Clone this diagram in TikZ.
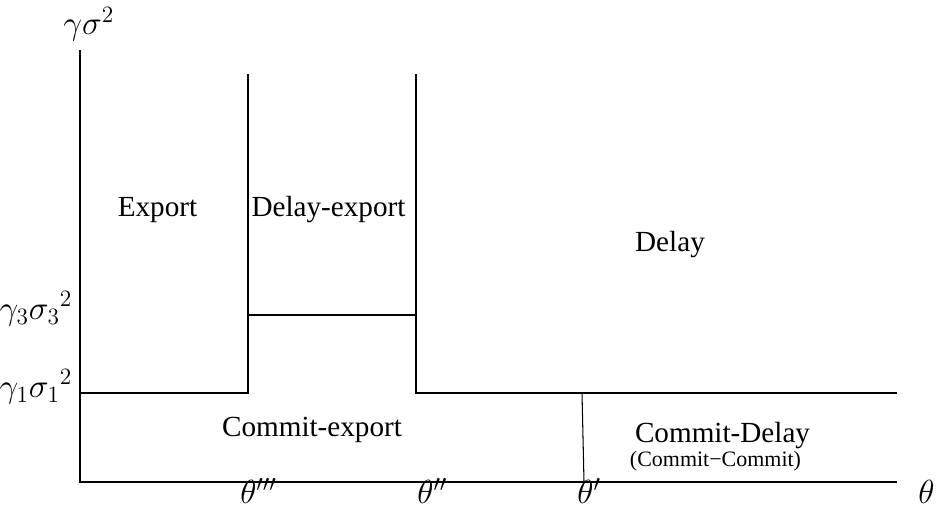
\documentclass[tikz,border=0pt]{standalone}
\usepackage{fix-cm}
\usepackage{fontspec}
\setmainfont{Liberation Serif}
\usetikzlibrary{positioning}

\begin{document}
\begin{tikzpicture}[
    region/.style={font=\fontsize{16.6}{20}\selectfont, anchor=base},
    axislabel/.style={font=\fontsize{19}{23}\selectfont, inner sep=0pt},
    border/.style={line width=1.1pt},
  ]
  \useasboundingbox (0,0) rectangle (18.74,10.2);

  % axes
  \draw[border] (1.6,9.2) -- (1.6,0.56) -- (17.94,0.56);

  % boundaries between the regions
  \draw[border] (1.6,2.34) -- (4.96,2.34) -- (4.96,8.72);
  \draw[border] (4.96,3.9) -- (8.32,3.9);
  \draw[border] (8.32,8.72) -- (8.32,2.34) -- (17.94,2.34);
  \draw[line width=0.6pt] (11.64,2.34) -- (11.68,0.56);

  % axis labels
  \node[axislabel, anchor=base west] (yaxis) at (1.26,9.5) {$\gamma\sigma^2$};
  \node[axislabel, anchor=mid east] (gthree) at (1.45,3.9) {${\gamma_3\sigma_3}^2$};
  \node[axislabel, anchor=mid east] (gone) at (1.45,2.34) {${\gamma_1\sigma_1}^2$};
  \node[axislabel, anchor=base west] (tthree) at (4.80,0.12) {$\theta'''$};
  \node[axislabel, anchor=base west] (ttwo) at (8.34,0.12) {$\theta''$};
  \node[axislabel, anchor=base west] (tone) at (11.54,0.12) {$\theta'$};
  \node[axislabel, anchor=base west] (xaxis) at (18.36,0.12) {$\theta$};

  % regions
  \node[region] (export) at (3.15,5.86) {Export};
  \node[region] (delayexport) at (6.57,5.86) {Delay-export};
  \node[region] (delay) at (13.4,5.16) {Delay};
  \node[region] (commitexport) at (6.24,1.46) {Commit-export};
  \node[region] (commitdelay) at (14.45,1.35) {Commit-Delay};
  \node[region, font=\fontsize{12.5}{15}\selectfont] (commitcommit) at (14.31,0.86)
    {(Commit−Commit)};
\end{tikzpicture}
\end{document}
